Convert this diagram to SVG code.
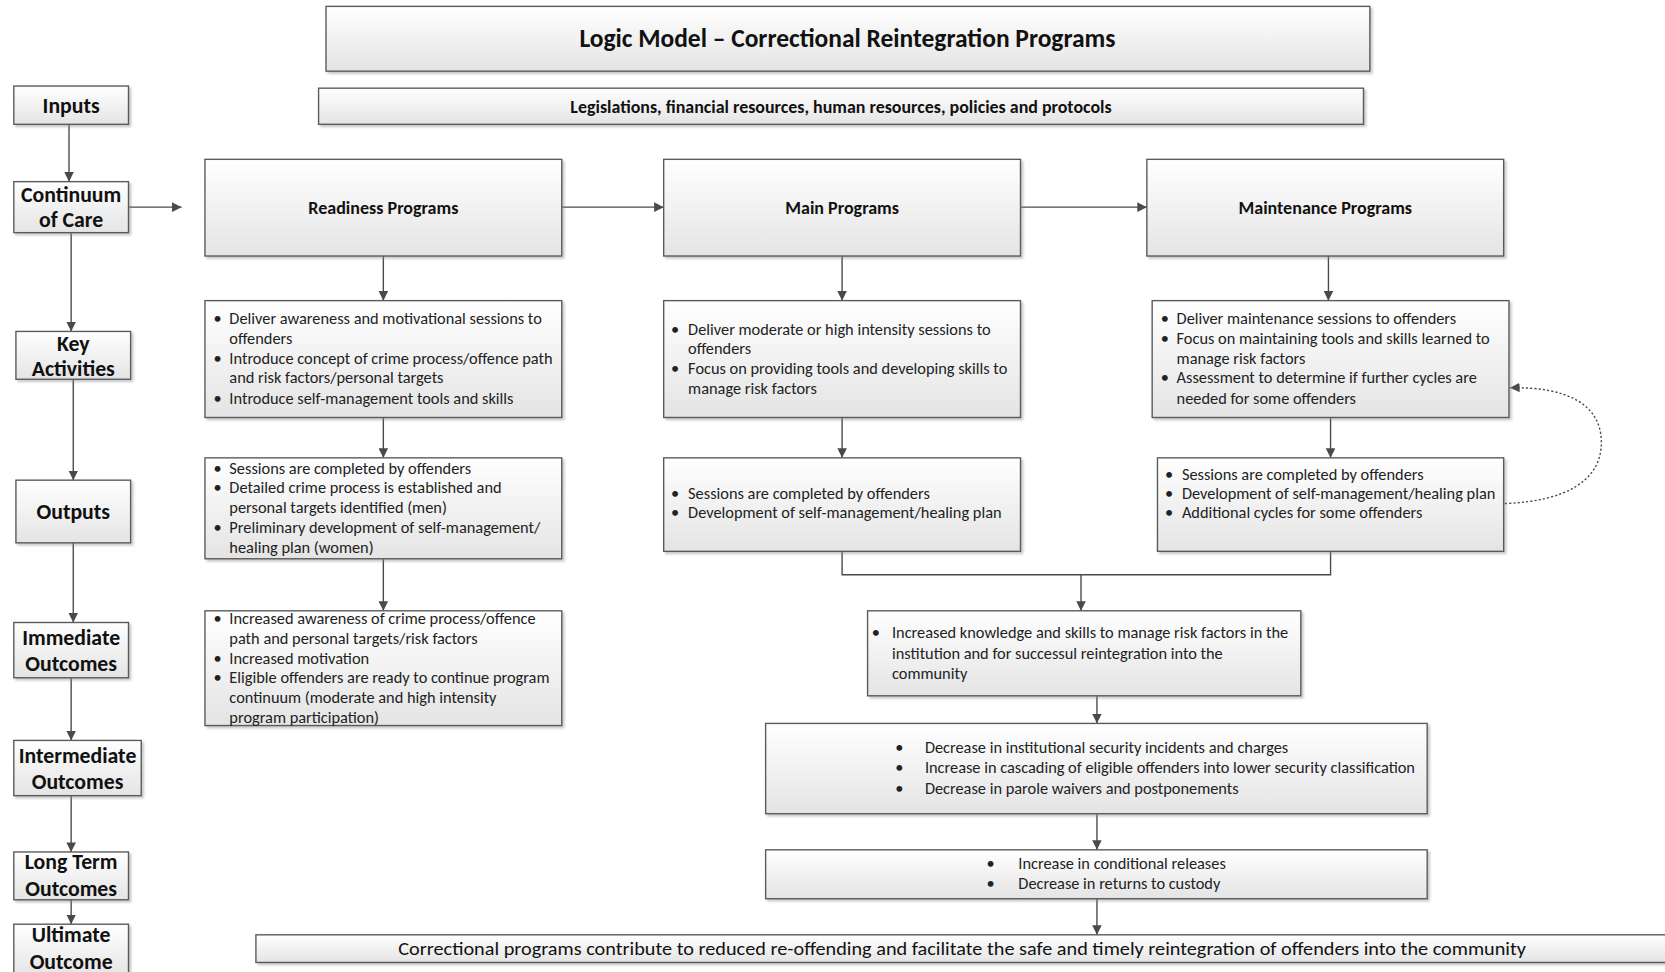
<svg xmlns="http://www.w3.org/2000/svg" width="1665" height="972" viewBox="0 0 1665 972">
  <defs>
    <linearGradient id="boxFill" x1="0" y1="0" x2="0" y2="1">
      <stop offset="0" stop-color="#ffffff"/>
      <stop offset="1" stop-color="#e4e4e4"/>
    </linearGradient>
    <filter id="shadow" x="-5%" y="-5%" width="110%" height="120%">
      <feDropShadow dx="2" dy="2" stdDeviation="1" flood-color="#888" flood-opacity="0.45"/>
    </filter>
    <marker id="arrow" viewBox="0 0 10 10" refX="10" refY="5" markerWidth="9" markerHeight="9" markerUnits="userSpaceOnUse" orient="auto">
      <path d="M0,0 L10,5 L0,10 Z" fill="#4a4a4a"/>
    </marker>
    <style>
      .box { fill: url(#boxFill); stroke: #5a5a5a; stroke-width: 1.3; filter: url(#shadow); }
      .lbl { font-family: Carlito, Lato, "Liberation Sans", sans-serif; font-weight: bold; font-size: 20.5px; fill: #111; text-anchor: middle; }
      .hdr { font-family: Carlito, Lato, "Liberation Sans", sans-serif; font-weight: bold; font-size: 17px; fill: #111; text-anchor: middle; }
      .ttl { font-size: 24px; }
      .res { font-size: 16.9px; }
      .txt { font-family: Carlito, Lato, "Liberation Sans", sans-serif; font-size: 15.4px; fill: #222; }
      .big { font-family: Carlito, Lato, "Liberation Sans", sans-serif; font-size: 17.5px; fill: #111; text-anchor: middle; }
      .con { fill: none; stroke: #4a4a4a; stroke-width: 1.3; }
      .arr { marker-end: url(#arrow); }
      .dot { fill: none; stroke: #4a4a4a; stroke-width: 1.3; stroke-dasharray: 2 2; marker-end: url(#arrow); }
    </style>
  </defs>
  <rect width="1665" height="972" fill="#ffffff"/>
  <g transform="scale(1.0619,1.0623)">

    <!-- connectors -->
    <g id="connectors">
      <!-- left-hand stage column -->
      <line class="con arr" x1="65" y1="117" x2="65" y2="171"/>
      <line class="con arr" x1="67" y1="219" x2="67" y2="312"/>
      <line class="con arr" x1="69" y1="357" x2="69" y2="452"/>
      <line class="con arr" x1="69" y1="511" x2="69" y2="586"/>
      <line class="con arr" x1="67" y1="638" x2="67" y2="697"/>
      <line class="con arr" x1="67" y1="749" x2="67" y2="802"/>
      <line class="con arr" x1="67" y1="847" x2="67" y2="870"/>
      <line class="con arr" x1="121" y1="195" x2="171" y2="195"/>
      <!-- program sequence -->
      <line class="con arr" x1="529" y1="195" x2="625" y2="195"/>
      <line class="con arr" x1="961" y1="195" x2="1080" y2="195"/>
      <!-- readiness column -->
      <line class="con arr" x1="361" y1="241" x2="361" y2="283"/>
      <line class="con arr" x1="361" y1="393" x2="361" y2="431"/>
      <line class="con arr" x1="361" y1="526" x2="361" y2="575"/>
      <!-- main column -->
      <line class="con arr" x1="793" y1="241" x2="793" y2="283"/>
      <line class="con arr" x1="793" y1="393" x2="793" y2="431"/>
      <!-- maintenance column -->
      <line class="con arr" x1="1251" y1="241" x2="1251" y2="283"/>
      <line class="con arr" x1="1253" y1="393" x2="1253" y2="431"/>
      <!-- merge of main and maintenance outputs -->
      <path class="con" d="M793,519 V541 H1253 V519"/>
      <line class="con arr" x1="1018" y1="541" x2="1018" y2="575"/>
      <!-- outcome chain -->
      <line class="con arr" x1="1033" y1="655" x2="1033" y2="681"/>
      <line class="con arr" x1="1033" y1="766" x2="1033" y2="800"/>
      <line class="con arr" x1="1033" y1="846" x2="1033" y2="880"/>
      <!-- additional cycles loop -->
      <path class="dot" d="M1417,474 C1475,472 1509,452 1508,415 C1507,380 1475,364 1422,365"/>
    </g>

    <!-- title -->
    <g id="title">
      <rect class="box" x="307" y="6" width="983" height="61"/>
      <text class="hdr ttl" x="798" y="44">Logic Model – Correctional Reintegration Programs</text>
    </g>
    <g id="inputs-detail">
      <rect class="box" x="300" y="83" width="984" height="34"/>
      <text class="hdr res" x="792" y="106">Legislations, financial resources, human resources, policies and protocols</text>
    </g>

    <!-- stage labels -->
    <g id="stage-inputs">
      <rect class="box" x="13" y="81" width="108" height="36"/>
      <text class="lbl" x="67" y="106">Inputs</text>
    </g>
    <g id="stage-continuum">
      <rect class="box" x="13" y="171" width="108" height="48"/>
      <text class="lbl" x="67" y="190">Continuum</text>
      <text class="lbl" x="67" y="214">of Care</text>
    </g>
    <g id="stage-activities">
      <rect class="box" x="15" y="312" width="108" height="45"/>
      <text class="lbl" x="69" y="330">Key</text>
      <text class="lbl" x="69" y="354">Activities</text>
    </g>
    <g id="stage-outputs">
      <rect class="box" x="15" y="452" width="108" height="59"/>
      <text class="lbl" x="69" y="489">Outputs</text>
    </g>
    <g id="stage-immediate">
      <rect class="box" x="13" y="586" width="108" height="52"/>
      <text class="lbl" x="67" y="607">Immediate</text>
      <text class="lbl" x="67" y="632">Outcomes</text>
    </g>
    <g id="stage-intermediate">
      <rect class="box" x="13" y="697" width="120" height="52"/>
      <text class="lbl" x="73" y="718">Intermediate</text>
      <text class="lbl" x="73" y="743">Outcomes</text>
    </g>
    <g id="stage-longterm">
      <rect class="box" x="13" y="802" width="108" height="45"/>
      <text class="lbl" x="67" y="818">Long Term</text>
      <text class="lbl" x="67" y="843">Outcomes</text>
    </g>
    <g id="stage-ultimate">
      <rect class="box" x="13" y="870" width="108" height="50"/>
      <text class="lbl" x="67" y="887">Ultimate</text>
      <text class="lbl" x="67" y="912">Outcome</text>
    </g>

    <!-- program streams -->
    <g id="readiness">
      <rect class="box" x="193" y="150" width="336" height="91"/>
      <text class="hdr" x="361" y="201">Readiness Programs</text>
    </g>
    <g id="main">
      <rect class="box" x="625" y="150" width="336" height="91"/>
      <text class="hdr" x="793" y="201">Main Programs</text>
    </g>
    <g id="maintenance">
      <rect class="box" x="1080" y="150" width="336" height="91"/>
      <text class="hdr" x="1248" y="201">Maintenance Programs</text>
    </g>

    <!-- readiness column -->
    <g id="readiness-activities" class="txt">
      <rect class="box" x="193" y="283" width="336" height="110"/>
      <text x="201" y="305">•</text><text x="216" y="305">Deliver awareness and motivational sessions to</text>
      <text x="216" y="324">offenders</text>
      <text x="201" y="343">•</text><text x="216" y="343">Introduce concept of crime process/offence path</text>
      <text x="216" y="361">and risk factors/personal targets</text>
      <text x="201" y="380">•</text><text x="216" y="380">Introduce self-management tools and skills</text>
    </g>
    <g id="readiness-outputs" class="txt">
      <rect class="box" x="193" y="431" width="336" height="95"/>
      <text x="201" y="446">•</text><text x="216" y="446">Sessions are completed by offenders</text>
      <text x="201" y="464">•</text><text x="216" y="464">Detailed crime process is established and</text>
      <text x="216" y="483">personal targets identified (men)</text>
      <text x="201" y="502">•</text><text x="216" y="502">Preliminary development of self-management/</text>
      <text x="216" y="521">healing plan (women)</text>
    </g>
    <g id="readiness-immediate" class="txt">
      <rect class="box" x="193" y="575" width="336" height="108"/>
      <text x="201" y="587">•</text><text x="216" y="587">Increased awareness of crime process/offence</text>
      <text x="216" y="606">path and personal targets/risk factors</text>
      <text x="201" y="625">•</text><text x="216" y="625">Increased motivation</text>
      <text x="201" y="643">•</text><text x="216" y="643">Eligible offenders are ready to continue program</text>
      <text x="216" y="662">continuum (moderate and high intensity</text>
      <text x="216" y="681">program participation)</text>
    </g>

    <!-- main column -->
    <g id="main-activities" class="txt">
      <rect class="box" x="625" y="283" width="336" height="110"/>
      <text x="632" y="315">•</text><text x="648" y="315">Deliver moderate or high intensity sessions to</text>
      <text x="648" y="333">offenders</text>
      <text x="632" y="352">•</text><text x="648" y="352">Focus on providing tools and developing skills to</text>
      <text x="648" y="371">manage risk factors</text>
    </g>
    <g id="main-outputs" class="txt">
      <rect class="box" x="625" y="431" width="336" height="88"/>
      <text x="632" y="470">•</text><text x="648" y="470">Sessions are completed by offenders</text>
      <text x="632" y="488">•</text><text x="648" y="488">Development of self-management/healing plan</text>
    </g>

    <!-- maintenance column -->
    <g id="maintenance-activities" class="txt">
      <rect class="box" x="1085" y="283" width="336" height="110"/>
      <text x="1093" y="305">•</text><text x="1108" y="305">Deliver maintenance sessions to offenders</text>
      <text x="1093" y="324">•</text><text x="1108" y="324">Focus on maintaining tools and skills learned to</text>
      <text x="1108" y="343">manage risk factors</text>
      <text x="1093" y="361">•</text><text x="1108" y="361">Assessment to determine if further cycles are</text>
      <text x="1108" y="380">needed for some offenders</text>
    </g>
    <g id="maintenance-outputs" class="txt">
      <rect class="box" x="1090" y="431" width="326" height="88"/>
      <text x="1097" y="452">•</text><text x="1113" y="452">Sessions are completed by offenders</text>
      <text x="1097" y="470">•</text><text x="1113" y="470">Development of self-management/healing plan</text>
      <text x="1097" y="488">•</text><text x="1113" y="488">Additional cycles for some offenders</text>
    </g>

    <!-- shared outcomes -->
    <g id="immediate-outcome" class="txt">
      <rect class="box" x="817" y="575" width="408" height="80"/>
      <text x="821" y="601">•</text><text x="840" y="601">Increased knowledge and skills to manage risk factors in the</text>
      <text x="840" y="620">institution and for successul reintegration into the</text>
      <text x="840" y="639">community</text>
    </g>
    <g id="intermediate-outcome" class="txt">
      <rect class="box" x="721" y="681" width="623" height="85"/>
      <text x="843" y="709">•</text><text x="871" y="709">Decrease in institutional security incidents and charges</text>
      <text x="843" y="728">•</text><text x="871" y="728">Increase in cascading of eligible offenders into lower security classification</text>
      <text x="843" y="747">•</text><text x="871" y="747">Decrease in parole waivers and postponements</text>
    </g>
    <g id="longterm-outcome" class="txt">
      <rect class="box" x="721" y="800" width="623" height="46"/>
      <text x="929" y="818">•</text><text x="959" y="818">Increase in conditional releases</text>
      <text x="929" y="837">•</text><text x="959" y="837">Decrease in returns to custody</text>
    </g>
    <g id="ultimate-outcome">
      <rect class="box" x="241" y="880" width="1340" height="26"/>
      <text class="big" x="906" y="899" textLength="1062" lengthAdjust="spacingAndGlyphs">Correctional programs contribute to reduced re-offending and facilitate the safe and timely reintegration of offenders into the community</text>
    </g>
  </g>
</svg>
